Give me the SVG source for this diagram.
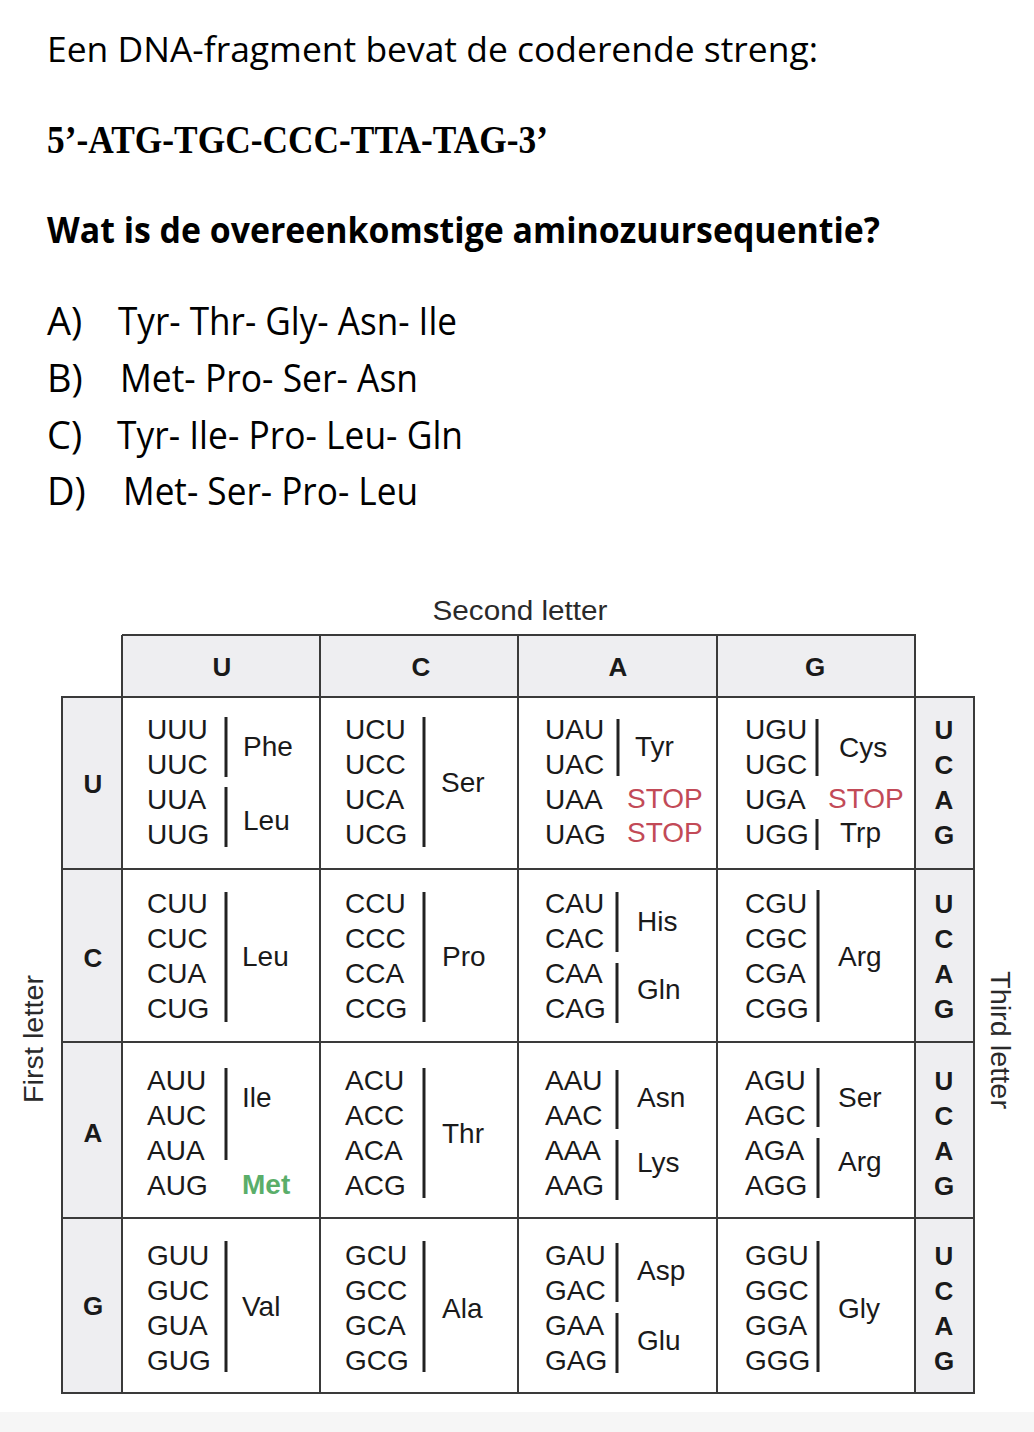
<svg xmlns="http://www.w3.org/2000/svg" width="1034" height="1432" viewBox="0 0 1034 1432">
<style>
.q{font-family:"Open Sans","Noto Sans","Liberation Sans",sans-serif;fill:#000}
.qb{font-family:"Open Sans","Noto Sans","Liberation Sans",sans-serif;font-weight:bold;fill:#000}
.seq{font-family:"Liberation Serif","DejaVu Serif",serif;font-weight:bold;fill:#000}
.t{font-family:"Liberation Sans",Arial,sans-serif;font-size:28px;fill:#1a1a1a}
.h{font-family:"Liberation Sans",Arial,sans-serif;font-size:26px;font-weight:bold;fill:#1a1a1a}
.lab{font-family:"Liberation Sans",Arial,sans-serif;font-size:27px;fill:#2a2a2a}
.stop{fill:#c24a57}
.met{fill:#5aae6a;font-weight:bold}
.grid{fill:none;stroke:#3a3a3a;stroke-width:2}
.gray{fill:#eeeef1}
.bar{stroke:#222;stroke-width:3}
.c{text-anchor:middle}
</style>
<rect x="0" y="0" width="1034" height="1432" fill="#fff"/>
<rect x="0" y="1412" width="1034" height="20" fill="#f6f6f6"/>

<g id="question">
<text class="q" x="47" y="62" font-size="35" textLength="771" lengthAdjust="spacingAndGlyphs">Een DNA-fragment bevat de coderende streng:</text>
<text class="seq" x="47" y="153" font-size="40" textLength="501" lengthAdjust="spacingAndGlyphs">5’-ATG-TGC-CCC-TTA-TAG-3’</text>
<text class="qb" x="47" y="243" font-size="35" textLength="833" lengthAdjust="spacingAndGlyphs">Wat is de overeenkomstige aminozuursequentie?</text>
</g>
<g id="options">
<text class="q" x="47" y="335" font-size="38">A)</text>
<text class="q" x="118" y="335" font-size="38" textLength="339" lengthAdjust="spacingAndGlyphs">Tyr- Thr- Gly- Asn- Ile</text>
<text class="q" x="47" y="392" font-size="38">B)</text>
<text class="q" x="120" y="392" font-size="38" textLength="298" lengthAdjust="spacingAndGlyphs">Met- Pro- Ser- Asn</text>
<text class="q" x="47" y="449" font-size="38">C)</text>
<text class="q" x="117" y="449" font-size="38" textLength="346" lengthAdjust="spacingAndGlyphs">Tyr- Ile- Pro- Leu- Gln</text>
<text class="q" x="47" y="505" font-size="38">D)</text>
<text class="q" x="123" y="505" font-size="38" textLength="295" lengthAdjust="spacingAndGlyphs">Met- Ser- Pro- Leu</text>
</g>

<g id="table-frame">
<rect class="gray" x="122" y="635" width="793" height="62"/>
<rect class="gray" x="62" y="697" width="60" height="696"/>
<rect class="gray" x="915" y="697" width="59" height="696"/>
<path class="grid" d="M122 635H915V697M122 635V1393M320 635V1393M518 635V1393M717 635V1393M915 635V1393M62 697H974V1393H62ZM62 869H974M62 1042H974M62 1218H974"/>
</g>

<g id="axis-labels">
<text class="lab c" x="520" y="620" textLength="175" lengthAdjust="spacingAndGlyphs">Second letter</text>
<text class="lab c" transform="translate(43 1039) rotate(-90)" textLength="128" lengthAdjust="spacingAndGlyphs">First letter</text>
<text class="lab c" transform="translate(991 1040) rotate(90)" textLength="138" lengthAdjust="spacingAndGlyphs">Third letter</text>
</g>

<g id="second-letter-header">
<text class="h c" x="222" y="676">U</text>
<text class="h c" x="421" y="676">C</text>
<text class="h c" x="618" y="676">A</text>
<text class="h c" x="815" y="676">G</text>
</g>

<g id="first-letter-column">
<text class="h c" x="93" y="793">U</text>
<text class="h c" x="93" y="967">C</text>
<text class="h c" x="93" y="1142">A</text>
<text class="h c" x="93" y="1315">G</text>
</g>

<g id="third-letter-column">
<text class="h c" x="944" y="739">U</text><text class="h c" x="944" y="774">C</text><text class="h c" x="944" y="809">A</text><text class="h c" x="944" y="844">G</text>
<text class="h c" x="944" y="913">U</text><text class="h c" x="944" y="948">C</text><text class="h c" x="944" y="983">A</text><text class="h c" x="944" y="1018">G</text>
<text class="h c" x="944" y="1090">U</text><text class="h c" x="944" y="1125">C</text><text class="h c" x="944" y="1160">A</text><text class="h c" x="944" y="1195">G</text>
<text class="h c" x="944" y="1265">U</text><text class="h c" x="944" y="1300">C</text><text class="h c" x="944" y="1335">A</text><text class="h c" x="944" y="1370">G</text>
</g>

<g id="cell-UU">
<text class="t" x="147" y="739">UUU</text><text class="t" x="147" y="774">UUC</text><text class="t" x="147" y="809">UUA</text><text class="t" x="147" y="844">UUG</text>
<line class="bar" x1="226" y1="717" x2="226" y2="777"/><line class="bar" x1="226" y1="787" x2="226" y2="847"/>
<text class="t" x="243" y="756">Phe</text><text class="t" x="243" y="830">Leu</text>
</g>
<g id="cell-UC">
<text class="t" x="345" y="739">UCU</text><text class="t" x="345" y="774">UCC</text><text class="t" x="345" y="809">UCA</text><text class="t" x="345" y="844">UCG</text>
<line class="bar" x1="424" y1="717" x2="424" y2="847"/>
<text class="t" x="441" y="792">Ser</text>
</g>
<g id="cell-UA">
<text class="t" x="545" y="739">UAU</text><text class="t" x="545" y="774">UAC</text><text class="t" x="545" y="809">UAA</text><text class="t" x="545" y="844">UAG</text>
<line class="bar" x1="618" y1="719" x2="618" y2="776"/>
<text class="t" x="635" y="756">Tyr</text>
<text class="t stop" x="627" y="808">STOP</text><text class="t stop" x="627" y="842">STOP</text>
</g>
<g id="cell-UG">
<text class="t" x="745" y="739">UGU</text><text class="t" x="745" y="774">UGC</text><text class="t" x="745" y="809">UGA</text><text class="t" x="745" y="844">UGG</text>
<line class="bar" x1="817" y1="719" x2="817" y2="776"/><line class="bar" x1="817" y1="819" x2="817" y2="850"/>
<text class="t" x="839" y="757">Cys</text>
<text class="t stop" x="828" y="808">STOP</text>
<text class="t" x="840" y="842">Trp</text>
</g>

<g id="cell-CU">
<text class="t" x="147" y="913">CUU</text><text class="t" x="147" y="948">CUC</text><text class="t" x="147" y="983">CUA</text><text class="t" x="147" y="1018">CUG</text>
<line class="bar" x1="226" y1="892" x2="226" y2="1022"/>
<text class="t" x="242" y="966">Leu</text>
</g>
<g id="cell-CC">
<text class="t" x="345" y="913">CCU</text><text class="t" x="345" y="948">CCC</text><text class="t" x="345" y="983">CCA</text><text class="t" x="345" y="1018">CCG</text>
<line class="bar" x1="424" y1="892" x2="424" y2="1022"/>
<text class="t" x="442" y="966">Pro</text>
</g>
<g id="cell-CA">
<text class="t" x="545" y="913">CAU</text><text class="t" x="545" y="948">CAC</text><text class="t" x="545" y="983">CAA</text><text class="t" x="545" y="1018">CAG</text>
<line class="bar" x1="617" y1="892" x2="617" y2="952"/><line class="bar" x1="617" y1="963" x2="617" y2="1023"/>
<text class="t" x="637" y="931">His</text><text class="t" x="637" y="999">Gln</text>
</g>
<g id="cell-CG">
<text class="t" x="745" y="913">CGU</text><text class="t" x="745" y="948">CGC</text><text class="t" x="745" y="983">CGA</text><text class="t" x="745" y="1018">CGG</text>
<line class="bar" x1="818" y1="890" x2="818" y2="1022"/>
<text class="t" x="838" y="966">Arg</text>
</g>

<g id="cell-AU">
<text class="t" x="147" y="1090">AUU</text><text class="t" x="147" y="1125">AUC</text><text class="t" x="147" y="1160">AUA</text><text class="t" x="147" y="1195">AUG</text>
<line class="bar" x1="226" y1="1068" x2="226" y2="1160"/>
<text class="t" x="242" y="1107">Ile</text>
<text class="t met" x="242" y="1194">Met</text>
</g>
<g id="cell-AC">
<text class="t" x="345" y="1090">ACU</text><text class="t" x="345" y="1125">ACC</text><text class="t" x="345" y="1160">ACA</text><text class="t" x="345" y="1195">ACG</text>
<line class="bar" x1="424" y1="1068" x2="424" y2="1198"/>
<text class="t" x="442" y="1143">Thr</text>
</g>
<g id="cell-AA">
<text class="t" x="545" y="1090">AAU</text><text class="t" x="545" y="1125">AAC</text><text class="t" x="545" y="1160">AAA</text><text class="t" x="545" y="1195">AAG</text>
<line class="bar" x1="617" y1="1070" x2="617" y2="1129"/><line class="bar" x1="617" y1="1140" x2="617" y2="1200"/>
<text class="t" x="637" y="1107">Asn</text><text class="t" x="637" y="1172">Lys</text>
</g>
<g id="cell-AG">
<text class="t" x="745" y="1090">AGU</text><text class="t" x="745" y="1125">AGC</text><text class="t" x="745" y="1160">AGA</text><text class="t" x="745" y="1195">AGG</text>
<line class="bar" x1="818" y1="1068" x2="818" y2="1127"/><line class="bar" x1="818" y1="1138" x2="818" y2="1198"/>
<text class="t" x="838" y="1107">Ser</text><text class="t" x="838" y="1171">Arg</text>
</g>

<g id="cell-GU">
<text class="t" x="147" y="1265">GUU</text><text class="t" x="147" y="1300">GUC</text><text class="t" x="147" y="1335">GUA</text><text class="t" x="147" y="1370">GUG</text>
<line class="bar" x1="226" y1="1241" x2="226" y2="1372"/>
<text class="t" x="242" y="1316">Val</text>
</g>
<g id="cell-GC">
<text class="t" x="345" y="1265">GCU</text><text class="t" x="345" y="1300">GCC</text><text class="t" x="345" y="1335">GCA</text><text class="t" x="345" y="1370">GCG</text>
<line class="bar" x1="424" y1="1241" x2="424" y2="1372"/>
<text class="t" x="442" y="1318">Ala</text>
</g>
<g id="cell-GA">
<text class="t" x="545" y="1265">GAU</text><text class="t" x="545" y="1300">GAC</text><text class="t" x="545" y="1335">GAA</text><text class="t" x="545" y="1370">GAG</text>
<line class="bar" x1="617" y1="1243" x2="617" y2="1302"/><line class="bar" x1="617" y1="1313" x2="617" y2="1373"/>
<text class="t" x="637" y="1280">Asp</text><text class="t" x="637" y="1350">Glu</text>
</g>
<g id="cell-GG">
<text class="t" x="745" y="1265">GGU</text><text class="t" x="745" y="1300">GGC</text><text class="t" x="745" y="1335">GGA</text><text class="t" x="745" y="1370">GGG</text>
<line class="bar" x1="818" y1="1241" x2="818" y2="1372"/>
<text class="t" x="838" y="1318">Gly</text>
</g>

<g id="connectors"/>
</svg>
